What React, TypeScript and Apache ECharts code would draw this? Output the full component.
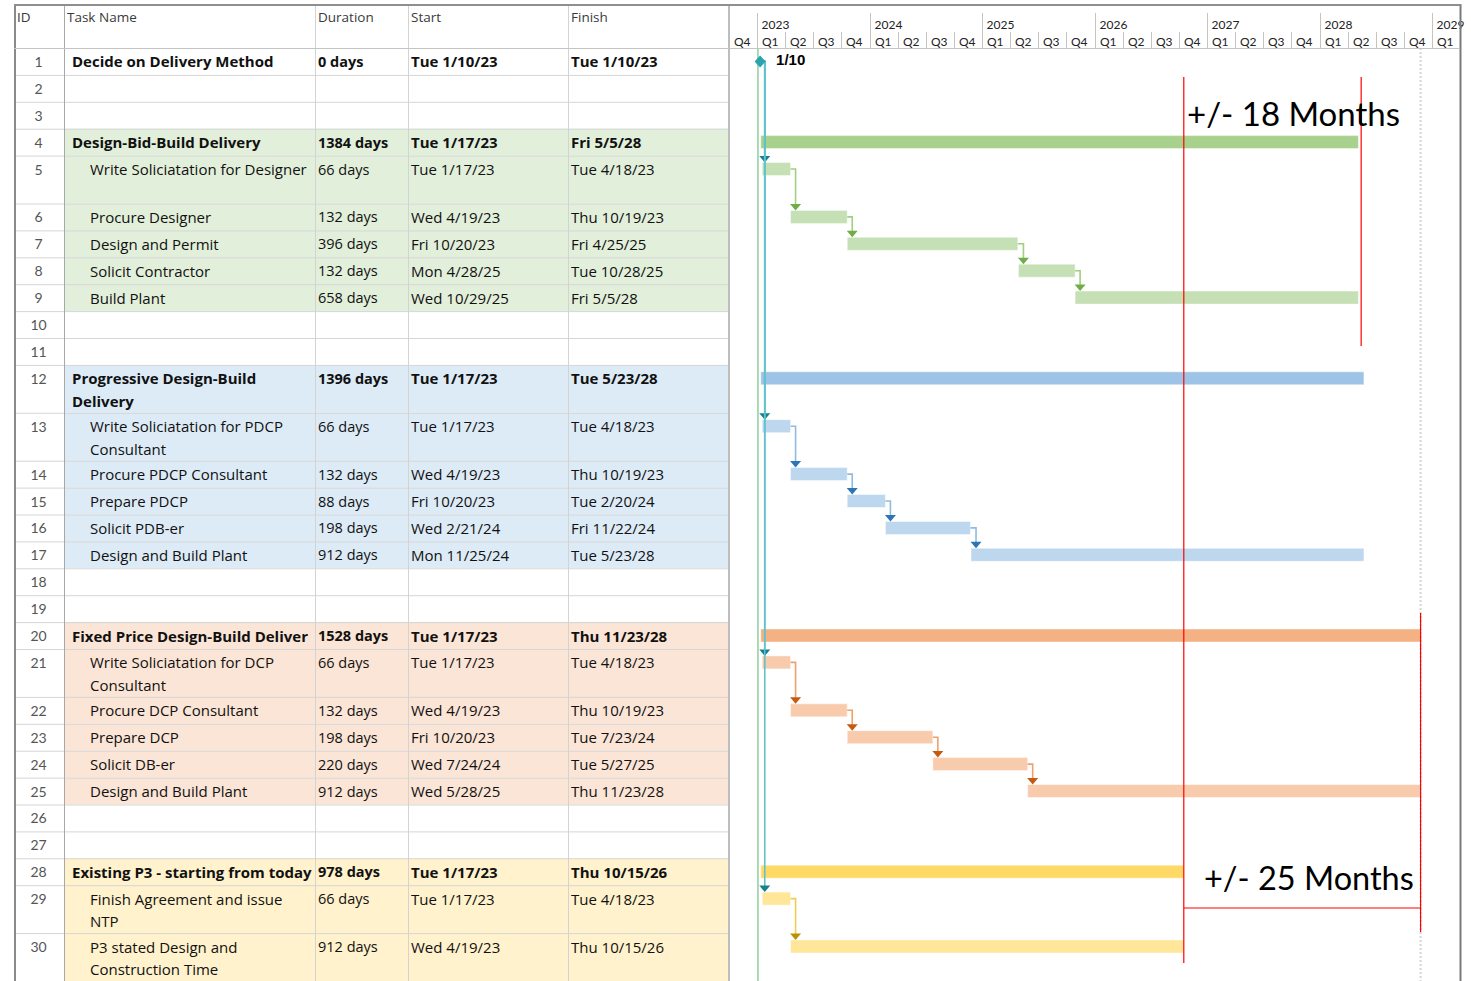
import React, { useEffect, useRef } from 'react';
import * as echarts from 'echarts';

// ---------------- DATA ----------------
const rowIds = [1, 2, 3, 4, 5, 6, 7, 8, 9, 10, 11, 12, 13, 14, 15, 16, 17, 18, 19, 20, 21, 22, 23, 24, 25, 26, 27, 28, 29, 30];

const taskNames = [
  'Decide on Delivery Method', '', '',
  'Design-Bid-Build Delivery', 'Write Soliciatation for Designer', 'Procure Designer', 'Design and Permit', 'Solicit Contractor', 'Build Plant',
  '', '',
  'Progressive Design-Build\nDelivery', 'Write Soliciatation for PDCP\nConsultant', 'Procure PDCP Consultant', 'Prepare PDCP', 'Solicit PDB-er', 'Design and Build Plant',
  '', '',
  'Fixed Price Design-Build Delivery', 'Write Soliciatation for DCP\nConsultant', 'Procure DCP Consultant', 'Prepare DCP', 'Solicit DB-er', 'Design and Build Plant',
  '', '',
  'Existing P3 - starting from today', 'Finish Agreement and issue\nNTP', 'P3 stated Design and\nConstruction Time',
];

const durations = [
  '0 days', '', '',
  '1384 days', '66 days', '132 days', '396 days', '132 days', '658 days',
  '', '',
  '1396 days', '66 days', '132 days', '88 days', '198 days', '912 days',
  '', '',
  '1528 days', '66 days', '132 days', '198 days', '220 days', '912 days',
  '', '',
  '978 days', '66 days', '912 days',
];

const startDates = [
  'Tue 1/10/23', '', '',
  'Tue 1/17/23', 'Tue 1/17/23', 'Wed 4/19/23', 'Fri 10/20/23', 'Mon 4/28/25', 'Wed 10/29/25',
  '', '',
  'Tue 1/17/23', 'Tue 1/17/23', 'Wed 4/19/23', 'Fri 10/20/23', 'Wed 2/21/24', 'Mon 11/25/24',
  '', '',
  'Tue 1/17/23', 'Tue 1/17/23', 'Wed 4/19/23', 'Fri 10/20/23', 'Wed 7/24/24', 'Wed 5/28/25',
  '', '',
  'Tue 1/17/23', 'Tue 1/17/23', 'Wed 4/19/23',
];

const finishDates = [
  'Tue 1/10/23', '', '',
  'Fri 5/5/28', 'Tue 4/18/23', 'Thu 10/19/23', 'Fri 4/25/25', 'Tue 10/28/25', 'Fri 5/5/28',
  '', '',
  'Tue 5/23/28', 'Tue 4/18/23', 'Thu 10/19/23', 'Tue 2/20/24', 'Fri 11/22/24', 'Tue 5/23/28',
  '', '',
  'Thu 11/23/28', 'Tue 4/18/23', 'Thu 10/19/23', 'Tue 7/23/24', 'Tue 5/27/25', 'Thu 11/23/28',
  '', '',
  'Thu 10/15/26', 'Tue 4/18/23', 'Thu 10/15/26',
];

// 'm' milestone, 's' summary, 't' task, '' blank
const rowKinds = ['m', '', '', 's', 't', 't', 't', 't', 't', '', '', 's', 't', 't', 't', 't', 't', '', '', 's', 't', 't', 't', 't', 't', '', '', 's', 't', 't'];
// group (colour family) of each row, -1 = none
const rowGroups = [-1, -1, -1, 0, 0, 0, 0, 0, 0, -1, -1, 1, 1, 1, 1, 1, 1, -1, -1, 2, 2, 2, 2, 2, 2, -1, -1, 3, 3, 3];
const doubleRows = [5, 12, 13, 21, 29, 30];

const taskLinks = [[5, 6], [6, 7], [7, 8], [8, 9], [13, 14], [14, 15], [15, 16], [16, 17], [21, 22], [22, 23], [23, 24], [24, 25], [29, 30]];
const milestoneLinks = [5, 13, 21, 29];

const timelineYears = [2022, 2023, 2024, 2025, 2026, 2027, 2028, 2029];
const quarterLabels = ['Q1', 'Q2', 'Q3', 'Q4'];
const axisStart = '2022-10-01';
const axisEnd = '2029-04-01';
const projectStartLine = '2023-01-03';
const projectFinishLine = '2028-11-24';

const headerLabels = ['ID', 'Task Name', 'Duration', 'Start', 'Finish'];

// red annotation lines: [date, yTop(px), yBottom(px)]
const redVerticals: [string, number, number][] = [
  ['2026-10-17', 77, 963],
  ['2028-05-15', 77, 346],
  ['2028-11-24', 613, 932],
];
const redHorizontal: [string, string, number] = ['2026-10-17', '2028-11-24', 908];
const annotationTexts = ['+/- 18 Months', '+/- 25 Months'];

// ---------------- STYLES / LAYOUT ----------------
const groupStyles = [
  { summary: '#a9d18e', task: '#c5e0b4', bg: '#e2efda', arrow: '#70ad47', link: '#9fd07f' },
  { summary: '#9dc3e6', task: '#bdd7ee', bg: '#ddebf7', arrow: '#2e75b6', link: '#8fbbe3' },
  { summary: '#f4b183', task: '#f8cbad', bg: '#fbe5d6', arrow: '#c55a11', link: '#efa06c' },
  { summary: '#ffd966', task: '#ffe699', bg: '#fff2cc', arrow: '#bf9000', link: '#f2cc5a' },
  { summary: '', task: '', bg: '', arrow: '#17808e', link: '#5ec3cb' },
];

const FONT = 'Lato';
const TABLE_FONT = 'Open Sans';
const W = 1471;
const H = 981;
const HEADER_TOP = 5;
const HEADER_BOTTOM = 48;
const SINGLE_H = 26.9;
const DOUBLE_H = 47.9;
const COL_X = [14, 64, 315, 408, 568, 729];
const GANTT_RIGHT = 1460;

const DAY = 86400000;
function parseMDY(s: string): number {
  const m = s.match(/(\d+)\/(\d+)\/(\d+)/);
  if (!m) return NaN;
  return new Date(2000 + Number(m[3]), Number(m[1]) - 1, Number(m[2])).getTime();
}
function parseISO(s: string): number {
  const [y, mo, d] = s.split('-').map(Number);
  return new Date(y, mo - 1, d).getTime();
}

const rowHeights = rowIds.map((id) => (doubleRows.includes(id) ? DOUBLE_H : SINGLE_H));
const rowTops: number[] = [];
{
  let acc = HEADER_BOTTOM;
  rowHeights.forEach((h) => {
    rowTops.push(acc);
    acc += h;
  });
}
const toU = (px: number) => px - HEADER_BOTTOM; // pixel -> y-axis unit
const rowCenterU = (i: number) => toU(rowTops[i] + 13.4);

function buildOption() {
  // ---- table graphics ----
  const g: any[] = [];
  const txt = (x: number, y: number, text: string, extra: any = {}) => ({
    type: 'text',
    x,
    y,
    z: 5,
    silent: true,
    style: {
      text,
      fill: '#111',
      fontFamily: TABLE_FONT,
      fontSize: 15,
      align: 'left',
      textAlign: 'left',
      verticalAlign: 'top',
      textVerticalAlign: 'top',
      lineHeight: 22.5,
      ...extra,
    },
  });
  const ln = (x1: number, y1: number, x2: number, y2: number, stroke: string, lineWidth = 1, z = 3) => ({
    type: 'line',
    z,
    silent: true,
    shape: { x1, y1, x2, y2 },
    style: { stroke, lineWidth },
  });

  rowIds.forEach((id, i) => {
    const grp = rowGroups[i];
    if (grp >= 0) {
      g.push({
        type: 'rect',
        z: 1,
        silent: true,
        shape: { x: COL_X[1], y: rowTops[i], width: COL_X[5] - COL_X[1], height: rowHeights[i] },
        style: { fill: groupStyles[grp].bg },
      });
    }
  });
  // row separators
  rowIds.forEach((id, i) => {
    if (i > 0) g.push(ln(COL_X[0], rowTops[i] + 0.5, COL_X[5], rowTops[i] + 0.5, '#d6d6d6'));
  });
  // column lines
  [COL_X[2], COL_X[3], COL_X[4]].forEach((x) => g.push(ln(x + 0.5, HEADER_TOP, x + 0.5, H, '#d3d3d3')));
  g.push(ln(COL_X[1] + 0.5, HEADER_TOP, COL_X[1] + 0.5, H, '#a8a8a8'));
  g.push(ln(COL_X[5], HEADER_TOP, COL_X[5], H, '#bdbdbd', 2));
  g.push(ln(COL_X[0] + 1, HEADER_TOP, COL_X[0] + 1, H, '#8a8a8a', 2));
  g.push(ln(GANTT_RIGHT + 0.5, HEADER_TOP, GANTT_RIGHT + 0.5, H, '#7a7a7a', 2));
  g.push(ln(COL_X[0], HEADER_TOP, GANTT_RIGHT + 1.5, HEADER_TOP, '#8f8f8f', 2));
  g.push(ln(COL_X[0], HEADER_BOTTOM + 0.5, GANTT_RIGHT, HEADER_BOTTOM + 0.5, '#c4c4c4'));

  // header labels
  const headerX = [17, 67, 318, 411, 571];
  headerLabels.forEach((t, k) =>
    g.push(txt(headerX[k], 17, t, { fontSize: 13.5, fill: '#3a3a3a', verticalAlign: 'middle', textVerticalAlign: 'middle', lineHeight: 16 }))
  );

  // rows
  rowIds.forEach((id, i) => {
    const top = rowTops[i] + 13.4 - 11.25;
    const bold = rowKinds[i] === 'm' || rowKinds[i] === 's';
    const fw = bold ? 'bold' : 'normal';
    g.push(txt(38.5, top, String(id), { fontFamily: FONT, fontSize: 14, fill: '#555', align: 'center', textAlign: 'center' }));
    if (taskNames[i]) {
      const x = bold ? 72 : 90;
      g.push(
        txt(x, top, taskNames[i], {
          fontWeight: fw,
          width: COL_X[2] - x,
          overflow: 'truncate',
          ellipsis: '',
        })
      );
    }
    if (durations[i]) g.push(txt(318, top, durations[i], { fontWeight: fw, fontSize: 14.5 }));
    if (startDates[i]) g.push(txt(411, top, startDates[i], { fontWeight: fw }));
    if (finishDates[i]) g.push(txt(571, top, finishDates[i], { fontWeight: fw }));
  });

  // annotation texts
  g.push({
    type: 'text', x: 1187, y: 113, z: 50, silent: true,
    style: { text: annotationTexts[0], fill: '#000', fontFamily: FONT, fontSize: 33, align: 'left', textAlign: 'left', verticalAlign: 'middle', textVerticalAlign: 'middle' },
  });
  g.push({
    type: 'text', x: 1204, y: 877, z: 50, silent: true,
    style: { text: annotationTexts[1], fill: '#000', fontFamily: FONT, fontSize: 32.5, align: 'left', textAlign: 'left', verticalAlign: 'middle', textVerticalAlign: 'middle' },
  });

  // ---- timeline header data ----
  const minTs = parseISO(axisStart);
  const maxTs = parseISO(axisEnd);
  const quarterData: number[][] = [];
  timelineYears.forEach((y) => {
    quarterLabels.forEach((q, qi) => {
      const ts = new Date(y, qi * 3, 1).getTime();
      if (ts >= minTs && ts < maxTs) quarterData.push([ts, 0, qi, y]);
    });
  });

  // ---- bar data ----
  const barData: number[][] = [];
  rowIds.forEach((id, i) => {
    if (rowKinds[i] === 's' || rowKinds[i] === 't') {
      barData.push([parseMDY(startDates[i]), parseMDY(finishDates[i]) + DAY, rowCenterU(i), rowGroups[i], rowKinds[i] === 's' ? 1 : 0]);
    }
  });

  // ---- link data ----
  const linkData: number[][] = [];
  taskLinks.forEach(([a, b]) => {
    linkData.push([parseMDY(finishDates[a - 1]) + DAY, rowCenterU(a - 1), parseMDY(startDates[b - 1]), rowCenterU(b - 1) - 6.5, rowGroups[b - 1], 5]);
  });
  const msTs = parseMDY(startDates[0]);
  milestoneLinks.forEach((b) => {
    linkData.push([msTs, rowCenterU(0), parseMDY(startDates[b - 1]), rowCenterU(b - 1) - 6.5, 4, 2.5]);
  });

  const m = startDates[0].match(/(\d+\/\d+)\//);
  const msLabel = m ? m[1] : '';

  const guideData = [
    [parseISO(projectStartLine), 0, toU(H), 0],
    [parseISO(projectFinishLine), 0, toU(H), 1],
  ];
  const redData = redVerticals.map(([d, y1, y2]) => [parseISO(d), toU(y1), toU(y2)]);
  const redHData = [[parseISO(redHorizontal[0]), parseISO(redHorizontal[1]), toU(redHorizontal[2])]];

  return {
    animation: false,
    textStyle: { fontFamily: FONT },
    grid: { left: COL_X[5], right: W - GANTT_RIGHT, top: HEADER_BOTTOM, bottom: 0, containLabel: false },
    xAxis: { type: 'time', min: minTs, max: maxTs, show: false, splitLine: { show: false } },
    yAxis: { type: 'value', min: 0, max: toU(H), inverse: true, show: false, splitLine: { show: false } },
    graphic: { elements: g },
    series: [
      {
        type: 'custom',
        name: 'timescale',
        clip: false,
        silent: true,
        encode: { x: 0, y: 1 },
        data: quarterData,
        renderItem: (params: any, api: any) => {
          const x = Math.round(api.coord([api.value(0), 0])[0]) + 0.5;
          const qi = api.value(2);
          const yr = api.value(3);
          const children: any[] = [
            { type: 'line', shape: { x1: x, y1: qi === 0 ? 13 : 32, x2: x, y2: HEADER_BOTTOM }, style: { stroke: '#c4c4c4', lineWidth: 1 } },
            {
              type: 'text', x: x + 4.5, y: 41,
              style: { text: quarterLabels[qi], fill: '#222', fontFamily: FONT, fontSize: 12, align: 'left', textAlign: 'left', verticalAlign: 'middle', textVerticalAlign: 'middle' },
            },
          ];
          if (qi === 0) {
            children.push({
              type: 'text', x: x + 4, y: 24,
              style: { text: String(yr), fill: '#222', fontFamily: FONT, fontSize: 12, align: 'left', textAlign: 'left', verticalAlign: 'middle', textVerticalAlign: 'middle' },
            });
          }
          return { type: 'group', children };
        },
      },
      {
        type: 'custom',
        name: 'guides',
        clip: false,
        silent: true,
        encode: { x: 0, y: [1, 2] },
        data: guideData,
        z: 1,
        renderItem: (params: any, api: any) => {
          const a = api.coord([api.value(0), api.value(1)]);
          const b = api.coord([api.value(0), api.value(2)]);
          const kind = api.value(3);
          return {
            type: 'line',
            shape: { x1: a[0], y1: a[1], x2: b[0], y2: b[1] },
            style: kind === 0 ? { stroke: '#8fcf9a', lineWidth: 1.5 } : { stroke: '#d4d4d4', lineWidth: 2, lineDash: [2, 2] },
          };
        },
      },
      {
        type: 'custom',
        name: 'bars',
        clip: false,
        silent: true,
        encode: { x: [0, 1], y: 2 },
        data: barData,
        z: 3,
        renderItem: (params: any, api: any) => {
          const s = api.coord([api.value(0), api.value(2)]);
          const e = api.coord([api.value(1), api.value(2)]);
          const gs = groupStyles[api.value(3)];
          const isSum = api.value(4) === 1;
          return {
            type: 'rect',
            shape: { x: s[0] - (isSum ? 1.5 : 0), y: s[1] - 6.5, width: e[0] - s[0] + (isSum ? 1.5 : 0), height: 13 },
            style: { fill: isSum ? gs.summary : gs.task, stroke: 'rgba(255,255,255,0.45)', lineWidth: 1 },
          };
        },
      },
      {
        type: 'custom',
        name: 'links',
        clip: false,
        silent: true,
        encode: { x: [0, 2], y: [1, 3] },
        data: linkData,
        z: 4,
        renderItem: (params: any, api: any) => {
          const a = api.coord([api.value(0), api.value(1)]);
          const b = api.coord([api.value(2), api.value(3)]);
          const gs = groupStyles[api.value(4)];
          const xa = b[0] + api.value(5);
          return {
            type: 'group',
            children: [
              {
                type: 'polyline',
                shape: { points: [[a[0], a[1]], [xa, a[1]], [xa, b[1] - 6]] },
                style: { stroke: gs.link, lineWidth: 1.6, fill: 'none' },
              },
              {
                type: 'polygon',
                shape: { points: [[xa - 5.5, b[1] - 6.5], [xa + 5.5, b[1] - 6.5], [xa, b[1]]] },
                style: { fill: gs.arrow },
              },
            ],
          };
        },
      },
      {
        type: 'custom',
        name: 'milestone',
        clip: false,
        silent: true,
        encode: { x: 0, y: 1 },
        data: [[msTs, rowCenterU(0)]],
        z: 6,
        renderItem: (params: any, api: any) => {
          const c = api.coord([api.value(0), api.value(1)]);
          return {
            type: 'group',
            children: [
              {
                type: 'polygon',
                shape: { points: [[c[0], c[1] - 6], [c[0] + 5.5, c[1]], [c[0], c[1] + 6], [c[0] - 5.5, c[1]]] },
                style: { fill: '#2aa3ad' },
              },
              {
                type: 'text', x: c[0] + 16, y: c[1] - 2,
                style: { text: msLabel, fill: '#000', fontFamily: 'Liberation Sans', fontWeight: 'bold', fontSize: 15, align: 'left', textAlign: 'left', verticalAlign: 'middle', textVerticalAlign: 'middle' },
              },
            ],
          };
        },
      },
      {
        type: 'custom',
        name: 'redLines',
        clip: false,
        silent: true,
        encode: { x: 0, y: [1, 2] },
        data: redData,
        z: 10,
        renderItem: (params: any, api: any) => {
          const a = api.coord([api.value(0), api.value(1)]);
          const b = api.coord([api.value(0), api.value(2)]);
          return { type: 'line', shape: { x1: a[0], y1: a[1], x2: b[0], y2: b[1] }, style: { stroke: '#ff0000', lineWidth: 1.2 } };
        },
      },
      {
        type: 'custom',
        name: 'redHorizontal',
        clip: false,
        silent: true,
        encode: { x: [0, 1], y: 2 },
        data: redHData,
        z: 10,
        renderItem: (params: any, api: any) => {
          const a = api.coord([api.value(0), api.value(2)]);
          const b = api.coord([api.value(1), api.value(2)]);
          return { type: 'line', shape: { x1: a[0], y1: a[1], x2: b[0], y2: b[1] }, style: { stroke: '#ff0000', lineWidth: 1.2 } };
        },
      },
    ],
  };
}

export default function App() {
  const ref = useRef<HTMLDivElement>(null);
  useEffect(() => {
    document.body.style.margin = '0';
    if (!ref.current) return;
    const chart = echarts.init(ref.current, null, { renderer: 'svg' });
    chart.setOption(buildOption() as any);
    return () => chart.dispose();
  }, []);
  return <div ref={ref} style={{ position: 'absolute', left: 0, top: 0, width: W, height: H, background: '#fff' }} />;
}
